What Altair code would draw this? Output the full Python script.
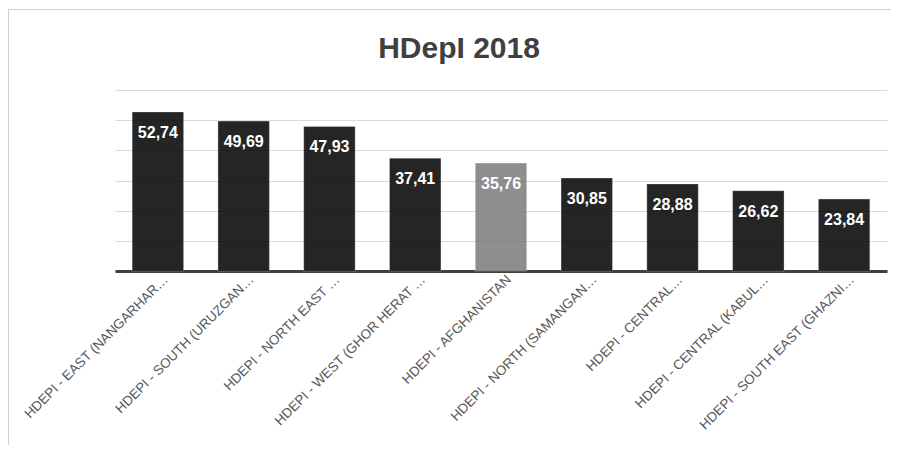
import altair as alt
import pandas as pd

regions = [
    "HDEPI - EAST (NANGARHAR…",
    "HDEPI - SOUTH (URUZGAN…",
    "HDEPI - NORTH EAST …",
    "HDEPI - WEST (GHOR HERAT …",
    "HDEPI - AFGHANISTAN",
    "HDEPI - NORTH (SAMANGAN…",
    "HDEPI - CENTRAL…",
    "HDEPI - CENTRAL (KABUL…",
    "HDEPI - SOUTH EAST (GHAZNI…",
]
values = [52.74, 49.69, 47.93, 37.41, 35.76, 30.85, 28.88, 26.62, 23.84]
highlight = "HDEPI - AFGHANISTAN"
grid_values = [0, 10, 20, 30, 40, 50, 60]

df = pd.DataFrame({"region": regions, "value": values})

W, H = 772, 181
PAD = {"left": 107, "top": 82, "right": 4, "bottom": 174}

x_axis = alt.Axis(
    labelAngle=-45,
    labelFontSize=13.5,
    labelColor="#595959",
    labelFont="Liberation Sans",
    labelLimit=400,
    ticks=False,
    domainColor="#404040",
    domainWidth=3,
    labelPadding=6,
    labelOffset=8,
    labelAlign="right",
    labelBaseline="middle",
)
y_axis = alt.Axis(
    values=grid_values,
    tickCount=7,
    labels=False,
    ticks=False,
    domain=False,
    grid=True,
    gridColor="#d9d9d9",
    gridWidth=1,
)
x_scale = alt.Scale(paddingInner=0.4, paddingOuter=0.2)
y_scale = alt.Scale(domain=[0, 60], nice=False)

base = alt.Chart(df)

frame = base.mark_rect(filled=False, stroke="#d0d0d0", strokeWidth=1).encode(
    x=alt.value(-PAD["left"] + 0.5),
    x2=alt.value(W + PAD["right"] + 20),
    y=alt.value(-PAD["top"] + 1.5),
    y2=alt.value(H + PAD["bottom"] + 20),
)

bars = base.mark_bar(opacity=0.85, stroke="white", strokeOpacity=0.3, strokeWidth=1).encode(
    x=alt.X("region:N", sort=None, title=None, scale=x_scale, axis=x_axis),
    y=alt.Y("value:Q", title=None, scale=y_scale, axis=y_axis),
    color=alt.condition(alt.datum.region == highlight, alt.value("#7b7b7b"), alt.value("#000000")),
)

labels = base.transform_calculate(
    label="replace(format(datum.value, '.2f'), '.', ',')"
).mark_text(
    color="white", fontWeight="bold", fontSize=16, font="Liberation Sans", baseline="middle", dy=21
).encode(
    x=alt.X("region:N", sort=None, title=None, scale=x_scale, axis=x_axis),
    y=alt.Y("value:Q", title=None, scale=y_scale, axis=y_axis),
    text="label:N",
)

chart = alt.layer(frame, bars, labels).properties(
    width=W,
    height=H,
    autosize=alt.AutoSizeParams(type="none"),
    padding=PAD,
    background="white",
    title=alt.TitleParams(
        "HDepI 2018",
        fontSize=30,
        fontWeight="bold",
        color="#404040",
        font="Liberation Sans",
        anchor="middle",
        dx=-42,
        dy=82,
        offset=27,
    ),
).configure_view(stroke=None)

chart.save("out.html", embed_options={"renderer": "svg", "actions": False})
